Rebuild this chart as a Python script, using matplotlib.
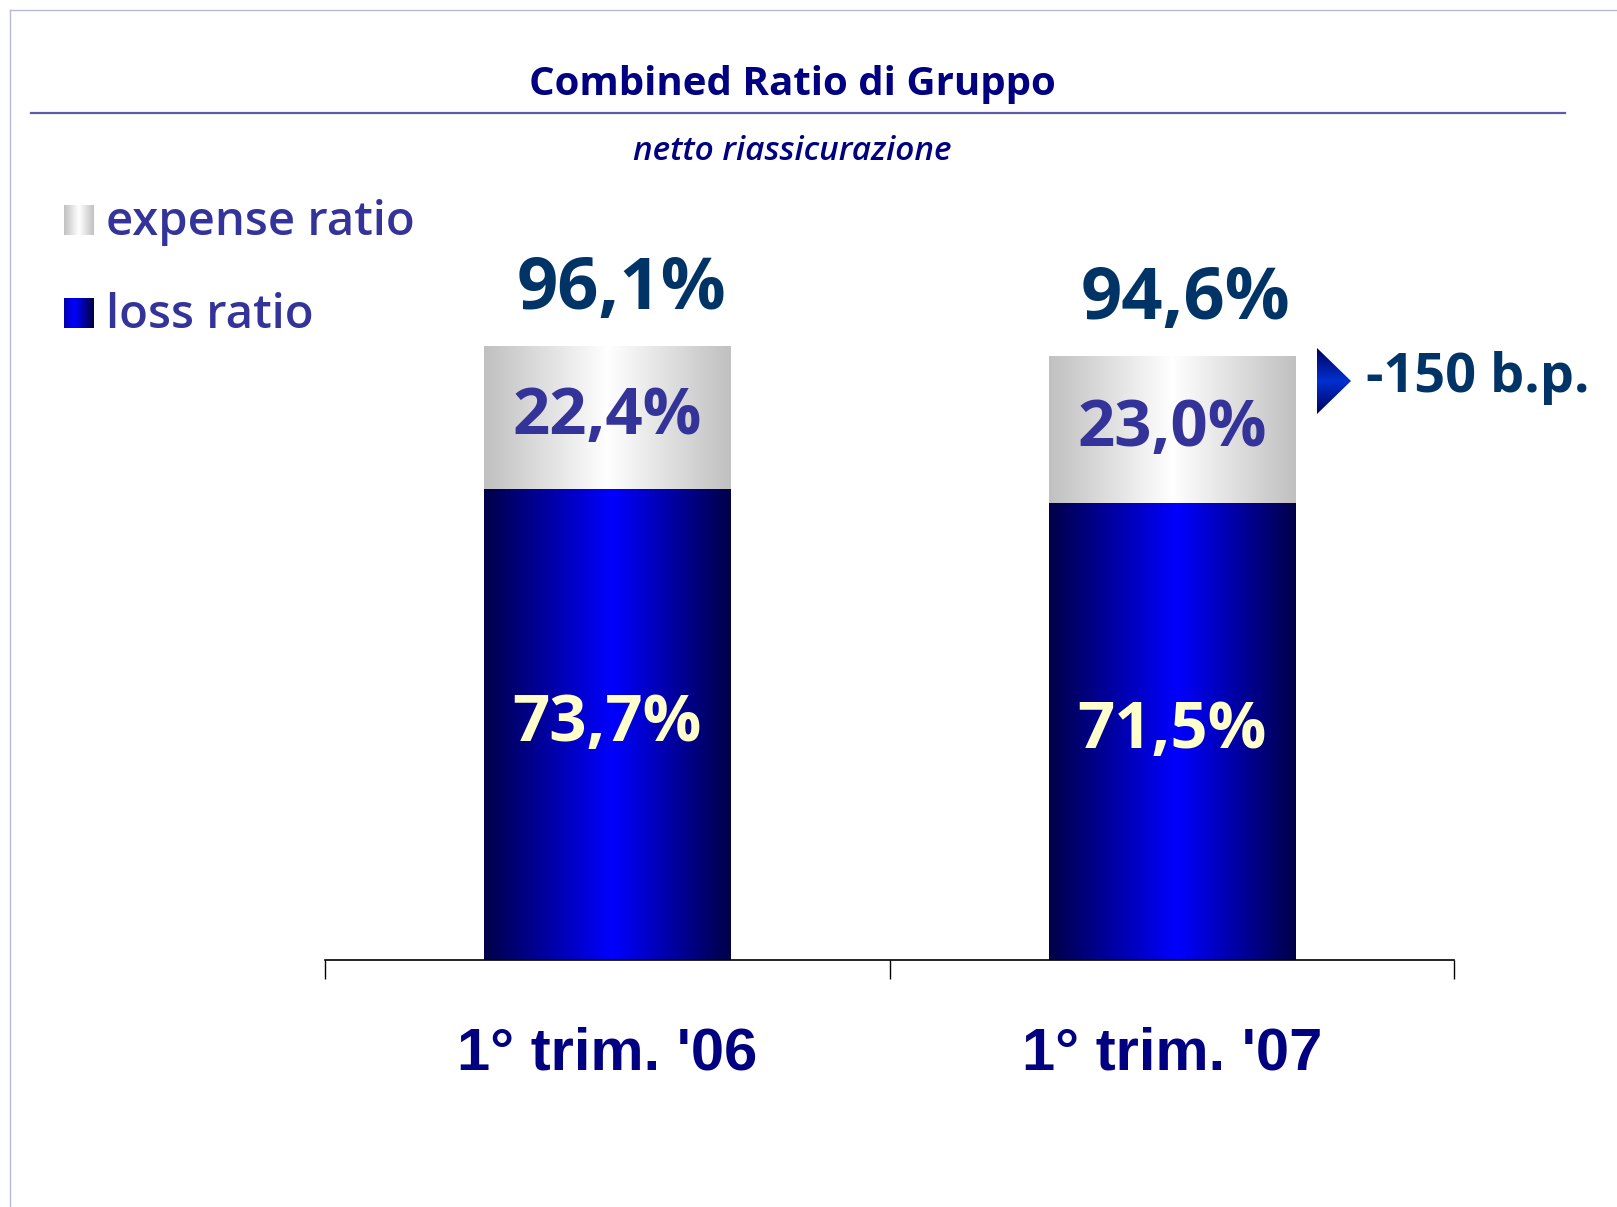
import numpy as np
import matplotlib
matplotlib.use('Agg')
import matplotlib.pyplot as plt
from matplotlib.colors import LinearSegmentedColormap
from matplotlib.patches import Polygon, Rectangle

# data
periods = ["1° trim. '06", "1° trim. '07"]
loss_ratio = [73.7, 71.5]
expense_ratio = [22.4, 23.0]
combined_ratio = [96.1, 94.6]
delta_label = '-150 b.p.'

W, H = 1617, 1207
NAVY = '#000080'
INDIGO = '#333399'
DARK = '#003366'

loss_cmap = LinearSegmentedColormap.from_list('loss', [(0, '#000048'), (0.52, '#0000ff'), (1, '#000048')])
exp_cmap = LinearSegmentedColormap.from_list('exp', [(0, '#c0c0c0'), (0.5, '#ffffff'), (1, '#c0c0c0')])
leg_loss_cmap = LinearSegmentedColormap.from_list('lloss', [(0, '#0000b0'), (0.35, '#0000ff'), (1, '#000040')])
tri_cmap = LinearSegmentedColormap.from_list('tri', [(0, '#000060'), (0.5, '#0030d0'), (1, '#000060')])


def fmt(v):
    return f'{v:.1f}'.replace('.', ',') + '%'


def gradient(ax, patch, cmap, extent, vertical=False):
    g = np.linspace(0, 1, 256)
    arr = g[:, None] if vertical else g[None, :]
    im = ax.imshow(arr, cmap=cmap, extent=extent, aspect='auto',
                   interpolation='bicubic', zorder=patch.get_zorder())
    im.set_clip_path(patch)
    patch.set_facecolor('none')
    return im


fig = plt.figure(figsize=(W / 100, H / 100), dpi=100)

# background axes in pixel coords for page decorations
bg = fig.add_axes([0, 0, 1, 1])
bg.set_xlim(0, W)
bg.set_ylim(H, 0)
bg.axis('off')
bg.plot([10, W], [10, 10], color='#b8b8d8', lw=1)
bg.plot([10, 10], [10, H], color='#b8b8d8', lw=1)
bg.plot([31, 1565], [113, 113], color='#5c5ca8', lw=1.6)

bg.text(792, 84, 'Combined Ratio di Gruppo', ha='center', va='center',
        fontsize=29, fontweight='bold', family='Open Sans', color=NAVY)
bg.text(792, 151, 'netto riassicurazione', ha='center', va='center',
        fontsize=24, fontweight='semibold', style='italic', family='Open Sans', color=NAVY)

# legend
sq = Rectangle((64, 205), 30, 30, zorder=3)
bg.add_patch(sq)
gradient(bg, sq, exp_cmap, [64, 94, 235, 205])
bg.text(106, 223, 'expense ratio', ha='left', va='center', fontsize=34,
        fontweight='semibold', family='Open Sans', color=INDIGO)
sq2 = Rectangle((64, 298), 30, 30, zorder=3)
bg.add_patch(sq2)
gradient(bg, sq2, leg_loss_cmap, [64, 94, 328, 298])
bg.text(106, 316, 'loss ratio', ha='left', va='center', fontsize=34,
        fontweight='semibold', family='Open Sans', color=INDIGO)

# delta marker
tri = Polygon([[1317, 348], [1351, 381], [1317, 414]], closed=True, zorder=3)
bg.add_patch(tri)
gradient(bg, tri, tri_cmap, [1317, 1351, 414, 348], vertical=True)
bg.text(1366, 378, delta_label, ha='left', va='center', fontsize=39,
        fontweight='bold', family='Open Sans', color=DARK)

# main chart
ax = fig.add_axes([325 / W, (H - 960) / H, 1129 / W, 639 / H])
ax.set_facecolor('none')
x = np.arange(len(periods))
width = 0.436
loss_bars = ax.bar(x, loss_ratio, width, zorder=2)
exp_bars = ax.bar(x, expense_ratio, width, bottom=loss_ratio, zorder=2)

for b in loss_bars:
    x0, y0 = b.get_xy()
    gradient(ax, b, loss_cmap, [x0, x0 + b.get_width(), y0, y0 + b.get_height()])
for b in exp_bars:
    x0, y0 = b.get_xy()
    gradient(ax, b, exp_cmap, [x0, x0 + b.get_width(), y0, y0 + b.get_height()])

for i in range(len(periods)):
    ax.text(x[i], loss_ratio[i] / 2, fmt(loss_ratio[i]), ha='center', va='center',
            fontsize=47, fontweight='bold', family='Open Sans', color='#ffffcc', zorder=5)
    ax.text(x[i], loss_ratio[i] + expense_ratio[i] / 2, fmt(expense_ratio[i]),
            ha='center', va='center', fontsize=47, fontweight='bold',
            family='Open Sans', color=INDIGO, zorder=5)
    ax.text(x[i] + 0.025, loss_ratio[i] + expense_ratio[i] + 8.8, fmt(combined_ratio[i]),
            ha='center', va='center', fontsize=52, fontweight='bold',
            family='Open Sans', color=DARK, zorder=5)

ax.set_xlim(-0.5, len(periods) - 0.5)
ax.set_ylim(0, 100)
for s in ['left', 'right', 'top']:
    ax.spines[s].set_visible(False)
ax.spines['bottom'].set_linewidth(1.2)
ax.set_yticks([])
ax.set_xticks(x)
ax.set_xticklabels(periods, fontsize=43, fontweight='bold',
                   family='Liberation Sans', color=NAVY)
ax.tick_params(axis='x', which='major', length=0, pad=48)
ax.set_xticks(np.arange(-0.5, len(periods), 1.0), minor=True)
ax.tick_params(axis='x', which='minor', length=14, width=1, direction='out')

fig.savefig('out.png', dpi=100)
